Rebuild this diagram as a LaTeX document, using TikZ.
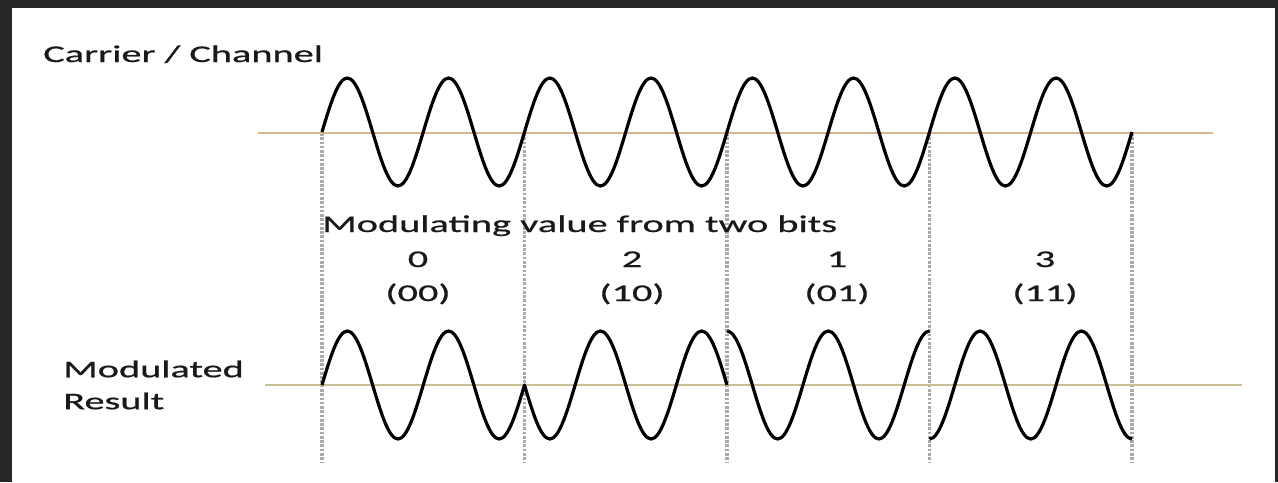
\documentclass[tikz,border=0pt]{standalone}
\usepackage{fontspec}
\setmainfont{Carlito}[FakeStretch=1.68,FakeBold=0.7]
\usepackage{xcolor}
\definecolor{frame}{HTML}{262626}
\definecolor{carrieraxis}{HTML}{D6B68C}
\definecolor{resultaxis}{HTML}{C8C092}
\definecolor{guide}{HTML}{AAAAAA}

\begin{document}
\begin{tikzpicture}[
  x=0.75pt, y=-0.75pt,
  wave/.style={draw=black, line width=2.4pt, line join=round},
  axisline/.style={draw=#1, line width=0.9pt},
  guideline/.style={draw=guide, line width=2.4pt, dash pattern=on 2pt off 1.2pt},
  lbl/.style={inner sep=0pt, font=\fontsize{18}{24}\selectfont, text=black!90},
  val/.style={lbl, anchor=base}
]
  \def\q{25.3125}
  \def\A{54}
  \useasboundingbox (0,0) rectangle (1278,482);
  \fill[frame] (0,0) rectangle (1278,482);
  \fill[white] (12,8) rectangle (1275,482);

  % borders between the symbols
  \foreach \x [count=\i] in {322,524.5,727,929.5,1132} {
    \coordinate (g\i) at (\x,133);
    \coordinate (h\i) at (\x,463);
    \draw[guideline] (g\i) -- (h\i);
  }

  % zero lines
  \coordinate (ca) at (258,133);
  \coordinate (cb) at (1213,133);
  \coordinate (ra) at (265,385);
  \coordinate (rb) at (1242,385);
  \draw[axisline=carrieraxis] (ca) -- (cb);
  \draw[axisline=resultaxis] (ra) -- (rb);

  % carrier
  \draw[wave] (322,132) \foreach \k in {1,...,8}{
    sin ++(\q,-\A) cos ++(\q,\A) sin ++(\q,\A) cos ++(\q,-\A) };

  % modulated result: 0, 180, 90, 270 degrees
  \draw[wave] (322,385)
    \foreach \k in {1,2}{ sin ++(\q,-\A) cos ++(\q,\A) sin ++(\q,\A) cos ++(\q,-\A) }
    \foreach \k in {1,2}{ sin ++(\q,\A) cos ++(\q,-\A) sin ++(\q,-\A) cos ++(\q,\A) };
  \draw[wave] (727,331)
    \foreach \k in {1,2}{ cos ++(\q,\A) sin ++(\q,\A) cos ++(\q,-\A) sin ++(\q,-\A) };
  \draw[wave] (929.5,439)
    \foreach \k in {1,2}{ cos ++(\q,-\A) sin ++(\q,-\A) cos ++(\q,\A) sin ++(\q,\A) };

  \node[lbl, anchor=base west] (carrier) at (43,62) {Carrier / Channel};
  \node[lbl, anchor=base west] (modvalue) at (322,232) {Modulating value from two bits};
  \node[lbl, anchor=west, align=left] (result) at (63,385) {Modulated\\Result};

  \foreach \x/\v/\b/\n in {418/0/00/a, 632/2/10/b, 837/1/01/c, 1045/3/11/d} {
    \node[val] (val\n) at (\x,267) {\v};
    \node[val] (bits\n) at (\x,301) {(\b)};
  }
\end{tikzpicture}
\end{document}
